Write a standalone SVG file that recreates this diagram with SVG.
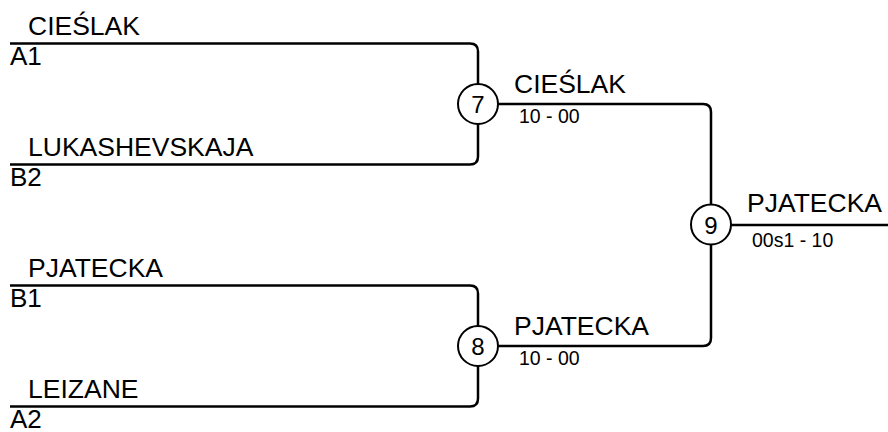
<svg xmlns="http://www.w3.org/2000/svg" width="888" height="432" viewBox="0 0 888 432">
<style>
  .ln{fill:none;stroke:#000;stroke-width:2.5}
  .c{fill:#fff;stroke:#000;stroke-width:2}
  .t{font-family:"Liberation Sans",Arial,sans-serif;fill:#000}
  .name{font-size:26.5px}
  .seed{font-size:26px}
  .score{font-size:19.5px}
  .num{font-size:24px;text-anchor:middle}
</style>
<rect width="888" height="432" fill="#fff"/>
<g id="connectors">
  <path class="ln" d="M10,43.5 H470 Q478,43.5 478,51.5 V156.5 Q478,164.5 470,164.5 H10"/>
  <path class="ln" d="M10,285.5 H470 Q478,285.5 478,293.5 V398.5 Q478,406.5 470,406.5 H10"/>
  <path class="ln" d="M478,104 H703 Q711,104 711,112 V338 Q711,346 703,346 H478"/>
  <path class="ln" d="M711,225 H888"/>
</g>
<g id="entry-A1">
  <text class="t name" x="28" y="34.5">CIEŚLAK</text>
  <text class="t seed" x="10" y="65">A1</text>
</g>
<g id="entry-B2">
  <text class="t name" x="28" y="155.5">LUKASHEVSKAJA</text>
  <text class="t seed" x="10" y="186">B2</text>
</g>
<g id="entry-B1">
  <text class="t name" x="28" y="277">PJATECKA</text>
  <text class="t seed" x="10" y="306.5">B1</text>
</g>
<g id="entry-A2">
  <text class="t name" x="28" y="397.5">LEIZANE</text>
  <text class="t seed" x="10" y="427.5">A2</text>
</g>
<g id="match-7">
  <circle class="c" cx="478" cy="104" r="20"/>
  <text class="t num" x="478" y="113">7</text>
  <text class="t name" x="514" y="93">CIEŚLAK</text>
  <text class="t score" x="519" y="123">10 - 00</text>
</g>
<g id="match-8">
  <circle class="c" cx="478" cy="346" r="20"/>
  <text class="t num" x="478" y="355">8</text>
  <text class="t name" x="514" y="335">PJATECKA</text>
  <text class="t score" x="519" y="365">10 - 00</text>
</g>
<g id="match-9">
  <circle class="c" cx="711" cy="224.5" r="20"/>
  <text class="t num" x="711" y="233.5">9</text>
  <text class="t name" x="747" y="211.5">PJATECKA</text>
  <text class="t score" x="752" y="246.5">00s1 - 10</text>
</g>
</svg>
